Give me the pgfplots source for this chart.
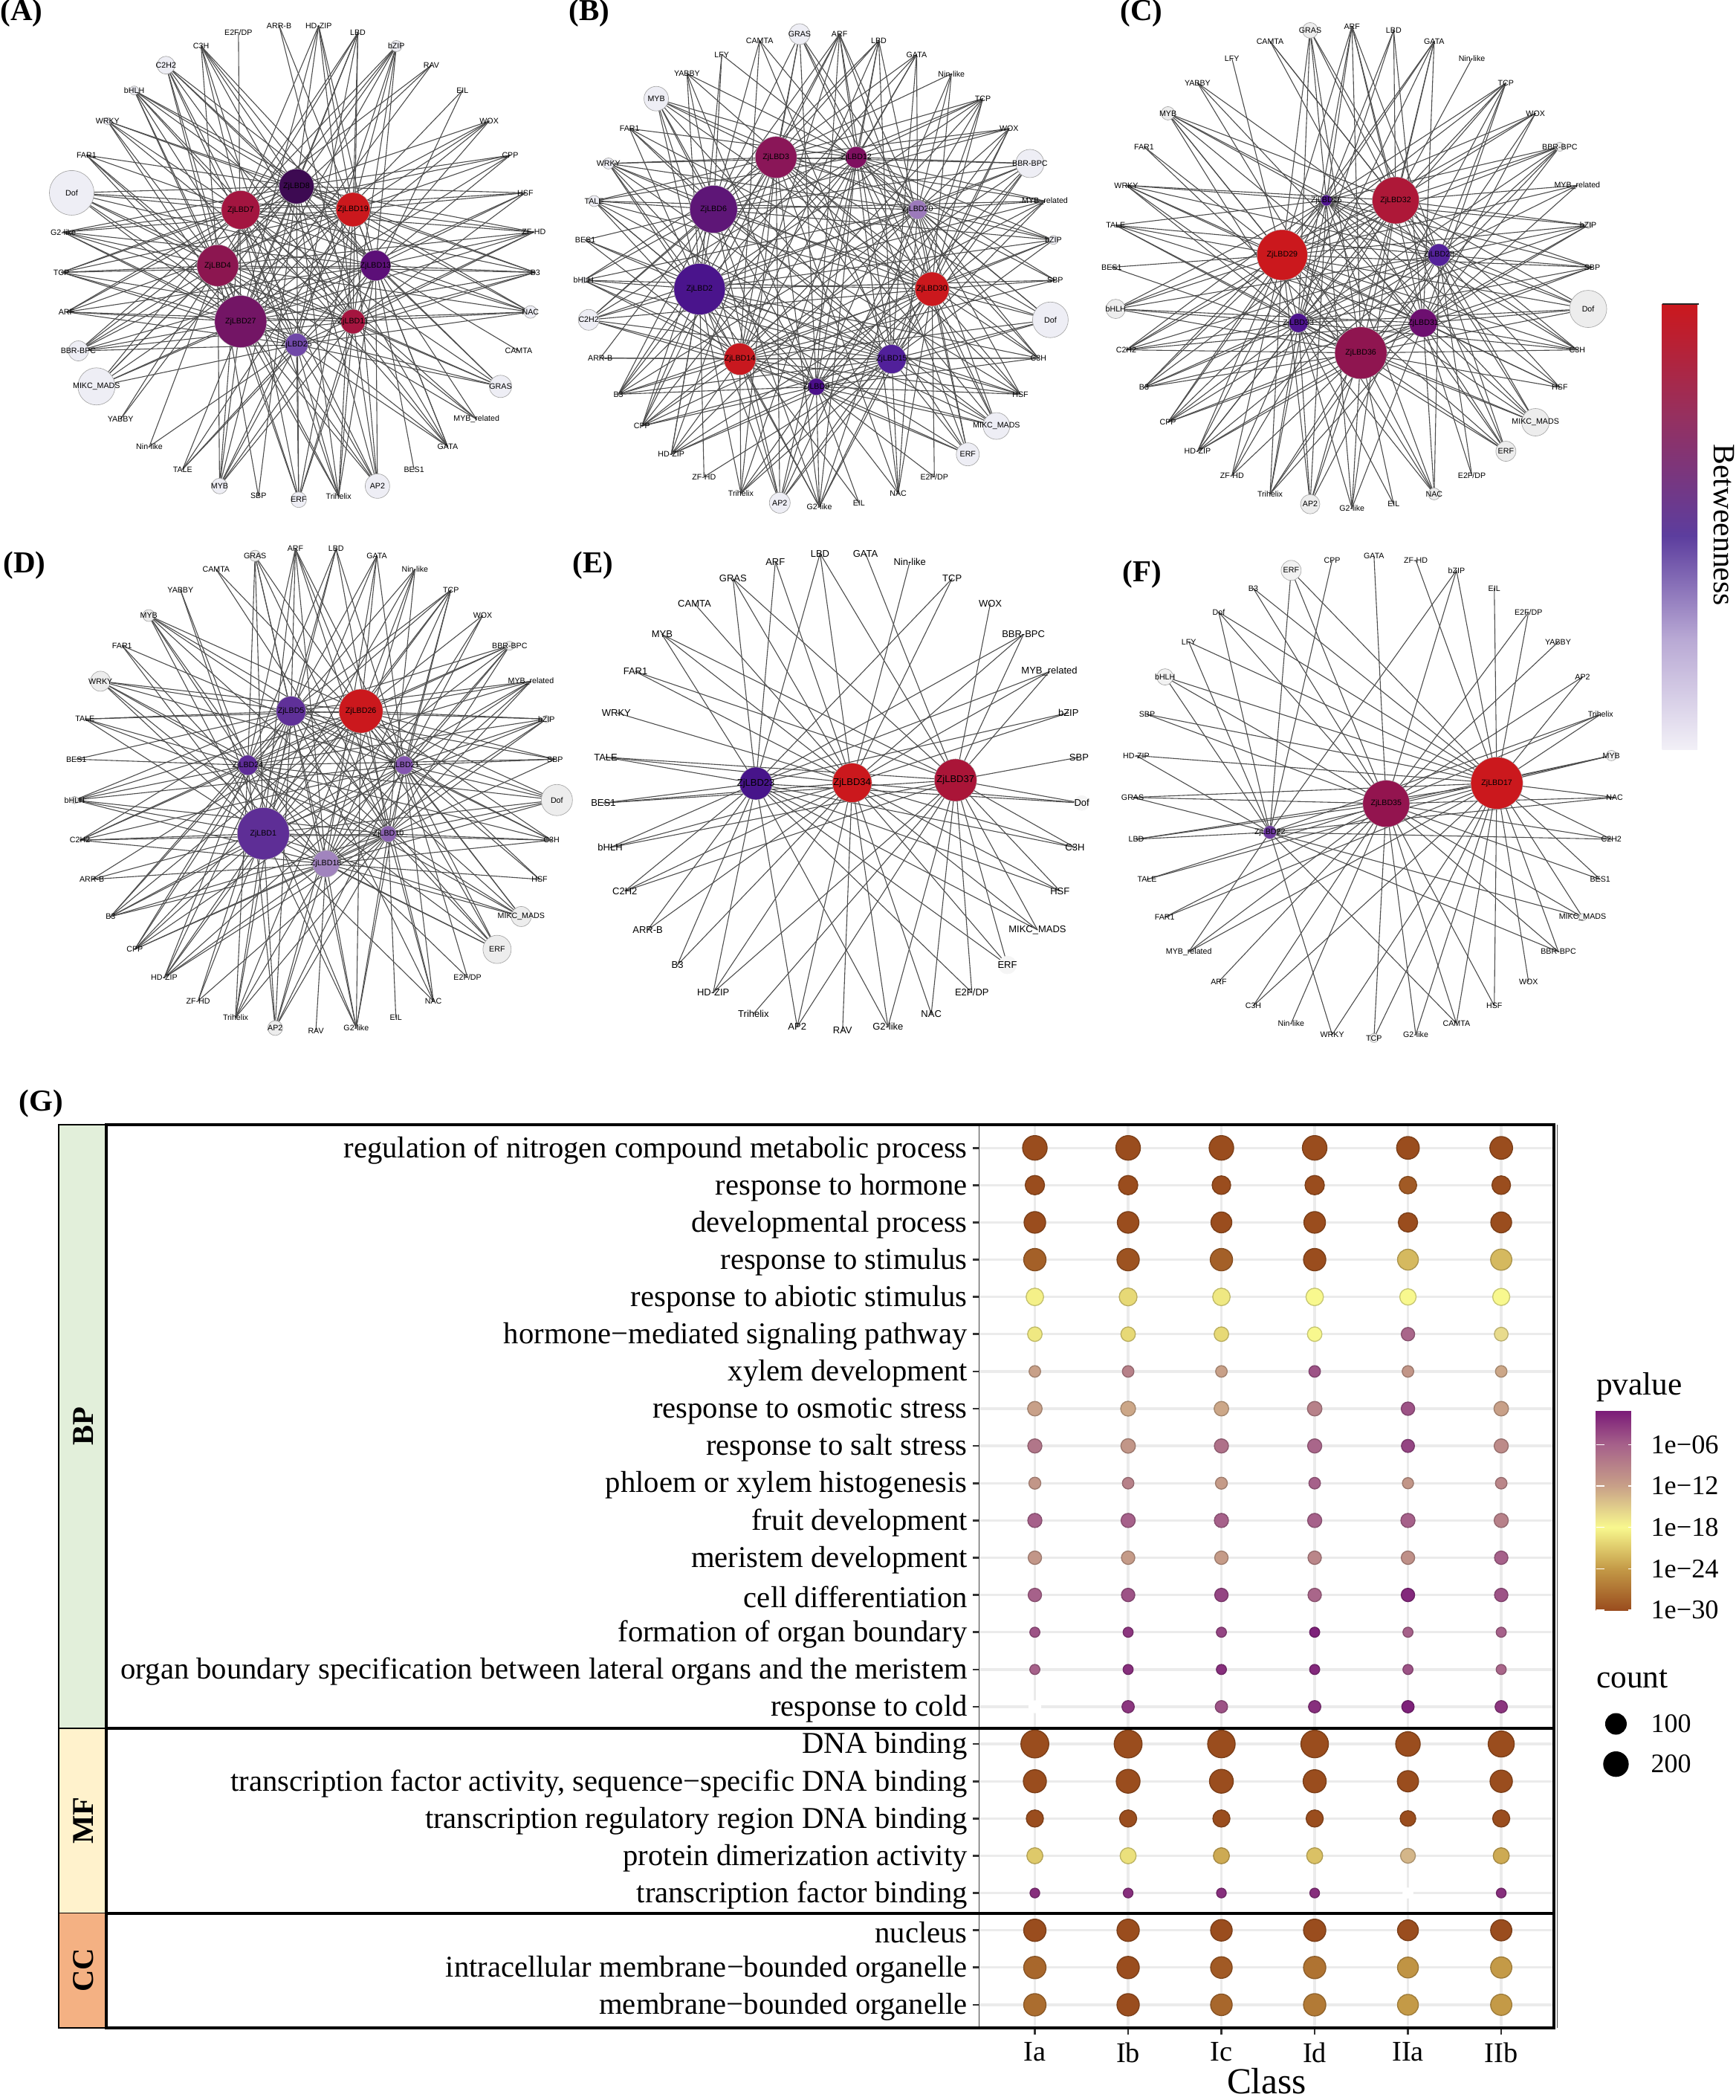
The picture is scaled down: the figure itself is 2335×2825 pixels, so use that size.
\documentclass[border=0pt]{standalone}
\usepackage{pgfplots}
\usepackage{pgfplotstable}
\usepackage{fontspec}
\setmainfont{Liberation Serif}
\newfontfamily\arial{Liberation Sans}
\pgfplotsset{compat=1.18}

% hub colours, named after the gene number
\definecolor{z1}{HTML}{5E2E96}\definecolor{z2}{HTML}{4A148C}\definecolor{z3}{HTML}{8A1658}
\definecolor{z4}{HTML}{8C1650}\definecolor{z5}{HTML}{5F3098}\definecolor{z6}{HTML}{5E1677}
\definecolor{z7}{HTML}{A31540}\definecolor{z8}{HTML}{3D0A52}\definecolor{z9}{HTML}{4B0F8A}
\definecolor{z10}{HTML}{8A62B0}\definecolor{z11}{HTML}{A5153F}\definecolor{z12}{HTML}{7F1060}
\definecolor{z13}{HTML}{5C0F78}\definecolor{z14}{HTML}{C8181F}\definecolor{z15}{HTML}{51209A}
\definecolor{z16}{HTML}{4E148E}\definecolor{z17}{HTML}{CB181D}\definecolor{z18}{HTML}{A184BE}
\definecolor{z19}{HTML}{CB181D}\definecolor{z20}{HTML}{9C7ABB}\definecolor{z21}{HTML}{8456B0}
\definecolor{z22}{HTML}{6E3AA0}\definecolor{z23}{HTML}{47148A}\definecolor{z24}{HTML}{5E2C98}
\definecolor{z25}{HTML}{7048A8}\definecolor{z26}{HTML}{CB181D}\definecolor{z27}{HTML}{731565}
\definecolor{z28}{HTML}{54229A}\definecolor{z29}{HTML}{CB181D}\definecolor{z30}{HTML}{CB181D}
\definecolor{z31}{HTML}{6D0F70}\definecolor{z32}{HTML}{AE1838}\definecolor{z33}{HTML}{4E148E}
\definecolor{z34}{HTML}{CB181D}\definecolor{z35}{HTML}{93144F}\definecolor{z36}{HTML}{8F1550}
\definecolor{z37}{HTML}{AA1538}
\definecolor{edgegray}{HTML}{4D4D4D}

\pgfplotsset{
  net/.style={hide axis,clip=false,scale only axis,anchor=north west,
    xmin=0,xmax=1568,ymin=0,ymax=1568,y dir=reverse},
  edge/.style={draw=edgegray,line width=0.33pt,line join=round,no markers},
  lab/.style={nodes near coords={#1},point meta=x,
    every node near coord/.append style={anchor=center,inner sep=0pt,font=\tf,text=black}},
}

% node list is run twice: once to store positions, once to draw
\newcommand\Store[5]{\expandafter\gdef\csname n@#1\endcsname{#2,#3}}
\newcommand\Draw[5]{%
  \ifnum#4>0
  \addplot[only marks,mark=*,mark size=#4*0.15pt,lab={#5},
    mark options={fill=ofill,draw=odraw,line width=0.2pt}] coordinates {(#2,#3)};
  \else
  \addplot[only marks,mark=none,lab={#5}] coordinates {(#2,#3)};
  \fi}
\newcommand\Edges[3]{%
  \gdef\acc{}%
  \foreach \k in {#3} {\xdef\acc{\acc(#1,#2)(\csname n@\k\endcsname)}}%
  \edef\temp{\noexpand\addplot[edge] coordinates {\acc};}\temp}
\newcommand\Hub[4]{%
  \addplot[only marks,mark=*,mark size=#3*0.15pt,lab={ZjLBD#4},
    mark options={fill=z#4,draw=gray!60,line width=0.15pt}] coordinates {(#1,#2)};}

\def\nodesA{%
\Tf{ARRB}{755}{75}{0}{ARR-B}\Tf{HDZIP}{862}{75}{0}{HD-ZIP}\Tf{LBD}{968}{96}{0}{LBD}\Tf{BZIP}{1072}{135}{15}{bZIP}%
\Tf{RAV}{1167}{191}{0}{RAV}\Tf{EIL}{1251}{265}{0}{EIL}\Tf{WOX}{1323}{355}{0}{WOX}\Tf{CPP}{1380}{455}{0}{CPP}%
\Tf{HSF}{1421}{565}{0}{HSF}\Tf{ZFHD}{1444}{680}{0}{ZF-HD}\Tf{B3}{1448}{798}{0}{B3}\Tf{NAC}{1435}{914}{17}{NAC}%
\Tf{CAMTA}{1403}{1028}{0}{CAMTA}\Tf{GRAS}{1354}{1132}{30}{GRAS}\Tf{MYBR}{1289}{1228}{0}{MYB\_related}%
\Tf{GATA}{1211}{1308}{0}{GATA}\Tf{BES1}{1120}{1375}{0}{BES1}\Tf{AP2}{1021}{1424}{33}{AP2}\Tf{TRI}{916}{1454}{0}{Trihelix}%
\Tf{ERF}{808}{1464}{21}{ERF}\Tf{SBP}{699}{1453}{0}{SBP}\Tf{MYB}{594}{1424}{21}{MYB}\Tf{TALE}{494}{1375}{0}{TALE}%
\Tf{NIN}{404}{1308}{0}{Nin-like}\Tf{YABBY}{326}{1228}{0}{YABBY}\Tf{MIKC}{261}{1132}{50}{MIKC\_MADS}%
\Tf{BBR}{212}{1028}{27}{BBR-BPC}\Tf{ARF}{180}{914}{0}{ARF}\Tf{TCP}{166}{798}{0}{TCP}\Tf{G2}{171}{680}{0}{G2-like}%
\Tf{DOF}{194}{565}{60}{Dof}\Tf{FAR1}{234}{455}{0}{FAR1}\Tf{WRKY}{291}{355}{10}{WRKY}\Tf{BHLH}{363}{265}{12}{bHLH}%
\Tf{C2H2}{449}{191}{24}{C2H2}\Tf{C3H}{544}{135}{0}{C3H}\Tf{E2F}{645}{96}{0}{E2F/DP}}

\def\nodesB{%
\Tf{GRAS}{688}{100}{28}{GRAS}\Tf{ARF}{805}{100}{0}{ARF}\Tf{LBD}{920}{119}{0}{LBD}\Tf{GATA}{1031}{160}{0}{GATA}%
\Tf{NIN}{1133}{216}{0}{Nin-like}\Tf{TCP}{1225}{289}{0}{TCP}\Tf{WOX}{1302}{377}{0}{WOX}\Tf{BBR}{1363}{479}{38}{BBR-BPC}%
\Tf{MYBR}{1407}{589}{0}{MYB\_related}\Tf{BZIP}{1432}{703}{12}{bZIP}\Tf{SBP}{1437}{821}{0}{SBP}\Tf{DOF}{1423}{937}{48}{Dof}%
\Tf{C3H}{1388}{1049}{0}{C3H}\Tf{HSF}{1335}{1155}{0}{HSF}\Tf{MIKC}{1265}{1248}{36}{MIKC\_MADS}\Tf{ERF}{1181}{1331}{31}{ERF}%
\Tf{E2F}{1083}{1397}{0}{E2F/DP}\Tf{NAC}{977}{1445}{0}{NAC}\Tf{EIL}{862}{1473}{0}{EIL}\Tf{G2}{746}{1485}{0}{G2-like}%
\Tf{AP2}{630}{1473}{28}{AP2}\Tf{TRI}{516}{1445}{0}{Trihelix}\Tf{ZFHD}{408}{1397}{0}{ZF-HD}\Tf{HDZIP}{312}{1331}{0}{HD-ZIP}%
\Tf{CPP}{226}{1248}{0}{CPP}\Tf{B3}{157}{1155}{0}{B3}\Tf{ARRB}{104}{1049}{0}{ARR-B}\Tf{C2H2}{70}{937}{28}{C2H2}%
\Tf{BHLH}{55}{821}{8}{bHLH}\Tf{BES1}{60}{703}{0}{BES1}\Tf{TALE}{86}{589}{15}{TALE}\Tf{WRKY}{128}{479}{15}{WRKY}%
\Tf{FAR1}{190}{377}{0}{FAR1}\Tf{MYB}{268}{289}{33}{MYB}\Tf{YABBY}{358}{216}{0}{YABBY}\Tf{LFY}{460}{160}{0}{LFY}%
\Tf{CAMTA}{571}{119}{0}{CAMTA}}

\def\nodesC{%
\Tf{GRAS}{519}{89}{21}{GRAS}\Tf{ARF}{622}{77}{0}{ARF}\Tf{LBD}{725}{89}{0}{LBD}\Tf{GATA}{825}{121}{0}{GATA}%
\Tf{NIN}{918}{172}{0}{Nin-like}\Tf{TCP}{1002}{243}{0}{TCP}\Tf{WOX}{1075}{332}{0}{WOX}\Tf{BBR}{1135}{430}{12}{BBR-BPC}%
\Tf{MYBR}{1178}{543}{0}{MYB\_related}\Tf{BZIP}{1205}{660}{9}{bZIP}\Tf{SBP}{1215}{783}{0}{SBP}\Tf{DOF}{1205}{905}{50}{Dof}%
\Tf{C3H}{1178}{1025}{0}{C3H}\Tf{HSF}{1135}{1135}{0}{HSF}\Tf{MIKC}{1075}{1237}{37}{MIKC\_MADS}\Tf{ERF}{1002}{1322}{27}{ERF}%
\Tf{E2F}{918}{1393}{0}{E2F/DP}\Tf{NAC}{825}{1447}{16}{NAC}\Tf{EIL}{725}{1477}{0}{EIL}\Tf{G2}{622}{1489}{0}{G2-like}%
\Tf{AP2}{519}{1477}{26}{AP2}\Tf{TRI}{420}{1447}{0}{Trihelix}\Tf{ZFHD}{326}{1393}{0}{ZF-HD}\Tf{HDZIP}{241}{1322}{0}{HD-ZIP}%
\Tf{CPP}{168}{1237}{0}{CPP}\Tf{B3}{109}{1135}{0}{B3}\Tf{C2H2}{65}{1025}{0}{C2H2}\Tf{BHLH}{39}{905}{26}{bHLH}%
\Tf{BES1}{29}{783}{0}{BES1}\Tf{TALE}{39}{660}{0}{TALE}\Tf{WRKY}{65}{543}{0}{WRKY}\Tf{FAR1}{109}{430}{0}{FAR1}%
\Tf{MYB}{168}{332}{18}{MYB}\Tf{YABBY}{241}{243}{0}{YABBY}\Tf{LFY}{326}{172}{0}{LFY}\Tf{CAMTA}{420}{121}{0}{CAMTA}}

\def\nodesD{%
\Tf{GRAS}{708}{62}{15}{GRAS}\Tf{ARF}{820}{41}{0}{ARF}\Tf{LBD}{933}{41}{0}{LBD}\Tf{GATA}{1046}{62}{0}{GATA}%
\Tf{NIN}{1152}{103}{0}{Nin-like}\Tf{TCP}{1252}{165}{0}{TCP}\Tf{WOX}{1340}{242}{0}{WOX}\Tf{BBR}{1415}{333}{12}{BBR-BPC}%
\Tf{MYBR}{1474}{440}{0}{MYB\_related}\Tf{BZIP}{1517}{554}{10}{bZIP}\Tf{SBP}{1541}{675}{0}{SBP}\Tf{DOF}{1546}{798}{42}{Dof}%
\Tf{C3H}{1531}{919}{0}{C3H}\Tf{HSF}{1498}{1037}{0}{HSF}\Tf{MIKC}{1447}{1149}{27}{MIKC\_MADS}\Tf{ERF}{1380}{1248}{38}{ERF}%
\Tf{E2F}{1298}{1333}{0}{E2F/DP}\Tf{NAC}{1203}{1403}{0}{NAC}\Tf{EIL}{1099}{1453}{0}{EIL}\Tf{G2}{989}{1485}{0}{G2-like}%
\Tf{RAV}{877}{1493}{0}{RAV}\Tf{AP2}{764}{1485}{20}{AP2}\Tf{TRI}{654}{1453}{0}{Trihelix}\Tf{ZFHD}{550}{1403}{0}{ZF-HD}%
\Tf{HDZIP}{456}{1333}{0}{HD-ZIP}\Tf{CPP}{374}{1248}{0}{CPP}\Tf{B3}{307}{1149}{0}{B3}\Tf{ARRB}{255}{1037}{0}{ARR-B}%
\Tf{C2H2}{222}{919}{0}{C2H2}\Tf{BHLH}{207}{798}{10}{bHLH}\Tf{BES1}{212}{675}{0}{BES1}\Tf{TALE}{236}{554}{0}{TALE}%
\Tf{WRKY}{279}{440}{27}{WRKY}\Tf{FAR1}{339}{333}{0}{FAR1}\Tf{MYB}{413}{242}{16}{MYB}\Tf{YABBY}{501}{165}{0}{YABBY}%
\Tf{CAMTA}{600}{103}{0}{CAMTA}}

\def\nodesE{%
\Tf{LBD}{748}{55}{0}{LBD}\Tf{GATA}{881}{55}{0}{GATA}\Tf{NIN}{1011}{80}{0}{Nin-like}\Tf{TCP}{1135}{131}{0}{TCP}%
\Tf{WOX}{1247}{206}{0}{WOX}\Tf{BBR}{1344}{299}{0}{BBR-BPC}\Tf{MYBR}{1420}{411}{0}{MYB\_related}\Tf{BZIP}{1476}{535}{0}{bZIP}%
\Tf{SBP}{1507}{669}{0}{SBP}\Tf{DOF}{1515}{807}{20}{Dof}\Tf{C3H}{1495}{941}{0}{C3H}\Tf{HSF}{1451}{1072}{0}{HSF}%
\Tf{MIKC}{1385}{1189}{0}{MIKC\_MADS}\Tf{ERF}{1297}{1295}{24}{ERF}\Tf{E2F}{1193}{1378}{0}{E2F/DP}\Tf{NAC}{1074}{1442}{0}{NAC}%
\Tf{G2}{947}{1481}{0}{G2-like}\Tf{RAV}{814}{1493}{0}{RAV}\Tf{AP2}{681}{1481}{0}{AP2}\Tf{TRI}{553}{1442}{0}{Trihelix}%
\Tf{HDZIP}{435}{1378}{0}{HD-ZIP}\Tf{B3}{330}{1295}{0}{B3}\Tf{ARRB}{243}{1189}{0}{ARR-B}\Tf{C2H2}{176}{1072}{0}{C2H2}%
\Tf{BHLH}{133}{941}{0}{bHLH}\Tf{BES1}{113}{807}{0}{BES1}\Tf{TALE}{120}{669}{0}{TALE}\Tf{WRKY}{151}{535}{0}{WRKY}%
\Tf{FAR1}{207}{411}{0}{FAR1}\Tf{MYB}{285}{299}{0}{MYB}\Tf{CAMTA}{380}{206}{0}{CAMTA}\Tf{GRAS}{493}{131}{0}{GRAS}%
\Tf{ARF}{617}{80}{0}{ARF}}

\def\nodesF{%
\Tf{GATA}{761}{63}{0}{GATA}\Tf{ZFHD}{877}{75}{0}{ZF-HD}\Tf{BZIP}{990}{106}{0}{bZIP}\Tf{EIL}{1095}{160}{0}{EIL}%
\Tf{E2F}{1190}{232}{0}{E2F/DP}\Tf{YABBY}{1272}{322}{0}{YABBY}\Tf{AP2}{1340}{427}{0}{AP2}\Tf{TRI}{1390}{540}{0}{Trihelix}%
\Tf{MYB}{1420}{664}{14}{MYB}\Tf{NAC}{1429}{790}{0}{NAC}\Tf{C2H2}{1420}{916}{0}{C2H2}\Tf{BES1}{1389}{1037}{0}{BES1}%
\Tf{MIKC}{1340}{1151}{10}{MIKC\_MADS}\Tf{BBR}{1273}{1255}{0}{BBR-BPC}\Tf{WOX}{1190}{1345}{0}{WOX}\Tf{HSF}{1095}{1418}{0}{HSF}%
\Tf{CAMTA}{990}{1471}{0}{CAMTA}\Tf{G2}{877}{1505}{0}{G2-like}\Tf{TCP}{761}{1515}{12}{TCP}\Tf{WRKY}{645}{1505}{0}{WRKY}%
\Tf{NIN}{531}{1471}{0}{Nin-like}\Tf{C3H}{426}{1418}{0}{C3H}\Tf{ARF}{330}{1345}{0}{ARF}\Tf{MYBR}{247}{1255}{0}{MYB\_related}%
\Tf{FAR1}{180}{1151}{0}{FAR1}\Tf{TALE}{131}{1037}{0}{TALE}\Tf{LBD}{101}{916}{0}{LBD}\Tf{GRAS}{91}{790}{0}{GRAS}%
\Tf{HDZIP}{101}{664}{0}{HD-ZIP}\Tf{SBP}{131}{540}{0}{SBP}\Tf{BHLH}{181}{427}{22}{bHLH}\Tf{LFY}{247}{322}{0}{LFY}%
\Tf{DOF}{330}{232}{0}{Dof}\Tf{B3}{426}{160}{0}{B3}\Tf{ERF}{531}{106}{27}{ERF}\Tf{CPP}{645}{75}{0}{CPP}}

% dot plot: class, row, log10(pvalue), diameter in px
\pgfplotstableread{
c r p d
0 0 -30 33
1 0 -30 33
2 0 -30 33
3 0 -30 33
4 0 -30 30.5
5 0 -30 30.5
0 -1 -30 26
1 -1 -30 26
2 -1 -30 25
3 -1 -30 26
4 -1 -29 23.5
5 -1 -30 25
0 -2 -30 29
1 -2 -30 29
2 -2 -30 28
3 -2 -30 29
4 -2 -30 26
5 -2 -30 28
0 -3 -28.5 30
1 -3 -29.5 30
2 -3 -28.5 30
3 -3 -30 30
4 -3 -22 28
5 -3 -22 28.5
0 -4 -18.5 23.5
1 -4 -20 24
2 -4 -19 23.5
3 -4 -18 23.5
4 -4 -18 22
5 -4 -18 23
0 -5 -19 19.5
1 -5 -20 19.5
2 -5 -20 19.5
3 -5 -18 19.5
4 -5 -6.5 18
5 -5 -16 18.5
0 -6 -12 15.5
1 -6 -9 15.5
2 -6 -12 15.5
3 -6 -5 15.5
4 -6 -11 15.5
5 -6 -12.5 15.5
0 -7 -12 19.5
1 -7 -12.5 20
2 -7 -12.5 19.5
3 -7 -9 19.5
4 -7 -5 18
5 -7 -12 19.5
0 -8 -8 19
1 -8 -11 19.5
2 -8 -7.5 19
3 -8 -6.5 19
4 -8 -4 17.5
5 -8 -10 19
0 -9 -11 16
1 -9 -9 15.5
2 -9 -11.5 16
3 -9 -6 15.5
4 -9 -11 15
5 -9 -9.5 15.5
0 -10 -6 19
1 -10 -6 19
2 -10 -6 19
3 -10 -6 19
4 -10 -6 19
5 -10 -9 19
0 -11 -11 18
1 -11 -11.5 18
2 -11 -11.5 18
3 -11 -9.5 18
4 -11 -10.5 18
5 -11 -6 18
0 -12 -6 18
1 -12 -5 18
2 -12 -4 18
3 -12 -6.5 18
4 -12 -2 18
5 -12 -5 18
0 -13 -5 13.5
1 -13 -3 13.5
2 -13 -4 13.5
3 -13 -1.5 13.5
4 -13 -6 13.5
5 -13 -6 13.5
0 -14 -6 13.5
1 -14 -2.5 13.5
2 -14 -2.5 13.5
3 -14 -2 13.5
4 -14 -5 13.5
5 -14 -6.5 13.5
1 -15 -3 16.5
2 -15 -5 16.5
3 -15 -2.5 16.5
4 -15 -1.5 16.5
5 -15 -3 16.5
0 -16 -30 37.5
1 -16 -30 37.5
2 -16 -30 37
3 -16 -30 37
4 -16 -30 33
5 -16 -30 35
0 -17 -30 31
1 -17 -30 32
2 -17 -30 32
3 -17 -30 31
4 -17 -30 28.5
5 -17 -30 30
0 -18 -30 23
1 -18 -30 23
2 -18 -30 23
3 -18 -30 23
4 -18 -30 21
5 -18 -30 23
0 -19 -21 21.5
1 -19 -19.5 21.5
2 -19 -23 21.5
3 -19 -21.5 21.5
4 -19 -13.5 20
5 -19 -23 21.5
0 -20 -2.5 13
1 -20 -2.5 13
2 -20 -2.5 13
3 -20 -2.5 13
5 -20 -2.5 13
0 -21 -30 30
1 -21 -30 30
2 -21 -30 29
3 -21 -30 30
4 -21 -30 28
5 -21 -30 28.5
0 -22 -28 30
1 -22 -30 30
2 -22 -29 29
3 -22 -27 30
4 -22 -24.5 28
5 -22 -24 28.5
0 -23 -27.5 30
1 -23 -30 30
2 -23 -28 29
3 -23 -26.5 30
4 -23 -24 28
5 -23 -24 28.5
}\dots

\begin{document}
\begin{tikzpicture}[x=0.3pt,y=-0.3pt]
\useasboundingbox (0,0) rectangle (2335,2825);

% ---------- (A)
\def\tf{\arial\fontsize{3.2}{3.8}\selectfont}
\colorlet{ofill}{black!3!blue!3!white!92!gray}
\colorlet{odraw}{gray!70}
\begin{axis}[net,at={(0pt,0pt)},width=234pt,height=216pt]
\let\Tf\Store \nodesA
\Edges{802}{546}{HDZIP,LBD,BZIP,WOX,CPP,HSF,ZFHD,B3,NAC,GRAS,GATA,AP2,TRI,ERF,SBP,MYB,TALE,YABBY,MIKC,BBR,ARF,TCP,G2,DOF,FAR1,WRKY,BHLH,C2H2,C3H}
\Edges{651}{615}{HDZIP,LBD,BZIP,RAV,CPP,HSF,ZFHD,B3,NAC,GRAS,MYBR,GATA,AP2,TRI,ERF,MYB,MIKC,BBR,ARF,TCP,G2,DOF,FAR1,WRKY,BHLH,C2H2,C3H}
\Edges{955}{614}{HDZIP,LBD,BZIP,WOX,CPP,HSF,ZFHD,B3,NAC,GATA,AP2,TRI,ERF,MYB,TALE,MIKC,BBR,ARF,TCP,G2,DOF,BHLH,C2H2,C3H,WRKY}
\Edges{589}{778}{LBD,BZIP,RAV,WOX,ZFHD,B3,NAC,GRAS,MYBR,GATA,AP2,TRI,ERF,SBP,MYB,YABBY,NIN,MIKC,BBR,TCP,G2,DOF,BHLH,C2H2,C3H,WRKY,FAR1}
\Edges{1016}{778}{ARRB,HDZIP,BZIP,CPP,HSF,ZFHD,B3,NAC,CAMTA,GRAS,MYBR,GATA,BES1,AP2,TRI,ERF,MYB,TALE,MIKC,BBR,ARF,TCP,G2,DOF,BHLH,C2H2,C3H}
\Edges{651}{942}{E2F,HDZIP,LBD,BZIP,RAV,EIL,WOX,CPP,HSF,ZFHD,B3,NAC,GRAS,AP2,TRI,ERF,MYB,MIKC,BBR,ARF,TCP,G2,DOF,FAR1,WRKY,BHLH,C2H2}
\Edges{955}{942}{ARRB,HDZIP,LBD,BZIP,EIL,HSF,ZFHD,B3,NAC,GRAS,MYBR,GATA,AP2,TRI,ERF,MYB,BBR,ARF,TCP,G2,DOF,WRKY,BHLH,C2H2,C3H}
\Edges{802}{1010}{LBD,BZIP,WOX,ZFHD,B3,NAC,GRAS,GATA,AP2,TRI,ERF,MYB,TALE,NIN,MIKC,BBR,ARF,TCP,G2,DOF,FAR1,BHLH,C2H2,C3H}
\let\Tf\Draw \nodesA
\Hub{802}{546}{47}{8}\Hub{651}{615}{52}{7}\Hub{955}{614}{46}{19}\Hub{589}{778}{56}{4}
\Hub{1016}{778}{41}{13}\Hub{651}{942}{70}{27}\Hub{955}{942}{33}{11}\Hub{802}{1010}{31}{25}
\end{axis}

% ---------- (B)
\begin{axis}[net,at={(228pt,0pt)},width=216pt,height=216pt]
\let\Tf\Store \nodesB
\Edges{619}{461}{GRAS,ARF,LBD,GATA,NIN,TCP,WOX,BBR,MYBR,BZIP,DOF,C3H,HSF,MIKC,ERF,NAC,G2,AP2,TRI,HDZIP,CPP,B3,C2H2,BHLH,TALE,WRKY,MYB}
\Edges{854}{461}{GRAS,ARF,LBD,GATA,TCP,WOX,BBR,MYBR,BZIP,SBP,DOF,C3H,MIKC,ERF,NAC,G2,AP2,TRI,CPP,B3,C2H2,TALE,WRKY,MYB,FAR1,YABBY,CAMTA}
\Edges{436}{613}{GRAS,ARF,LBD,CAMTA,TCP,WOX,BBR,MYBR,BZIP,DOF,HSF,MIKC,G2,AP2,HDZIP,CPP,B3,ARRB,C2H2,BHLH,BES1,TALE,WRKY,MYB,FAR1,YABBY,LFY}
\Edges{1034}{614}{GRAS,ARF,GATA,NIN,TCP,WOX,BBR,MYBR,BZIP,SBP,DOF,C3H,HSF,MIKC,ERF,NAC,G2,AP2,HDZIP,CPP,B3,C2H2,BHLH,TALE,WRKY,MYB,LFY}
\Edges{395}{847}{ARF,GATA,TCP,BBR,MYBR,BZIP,SBP,C3H,HSF,MIKC,ERF,EIL,G2,AP2,TRI,ZFHD,HDZIP,CPP,B3,C2H2,BHLH,BES1,TALE,WRKY,MYB,FAR1,YABBY,LFY}
\Edges{1076}{847}{GRAS,ARF,LBD,NIN,TCP,WOX,BBR,BZIP,SBP,DOF,C3H,HSF,MIKC,ERF,E2F,NAC,G2,AP2,TRI,HDZIP,CPP,B3,C2H2,BHLH,TALE,WRKY,MYB,FAR1,YABBY}
\Edges{513}{1052}{GRAS,ARF,LBD,GATA,TCP,BBR,MYBR,BZIP,SBP,DOF,C3H,HSF,MIKC,ERF,G2,AP2,TRI,HDZIP,CPP,B3,ARRB,C2H2,BHLH,BES1,TALE,WRKY,MYB,CAMTA}
\Edges{958}{1052}{ARF,LBD,GATA,TCP,WOX,BBR,MYBR,BZIP,DOF,C3H,HSF,MIKC,ERF,NAC,G2,AP2,TRI,ZFHD,HDZIP,CPP,B3,ARRB,C2H2,BHLH,BES1,TALE,WRKY,MYB,FAR1,CAMTA}
\Edges{737}{1133}{GRAS,ARF,LBD,NIN,WOX,BBR,MYBR,DOF,C3H,HSF,MIKC,ERF,E2F,NAC,EIL,G2,AP2,TRI,HDZIP,CPP,B3,C2H2,BHLH,TALE,WRKY,MYB,YABBY}
\let\Tf\Draw \nodesB
\Hub{619}{461}{56}{3}\Hub{854}{461}{29}{12}\Hub{436}{613}{64}{6}\Hub{1034}{614}{26}{20}\Hub{395}{847}{69}{2}
\Hub{1076}{847}{46}{30}\Hub{513}{1052}{43}{14}\Hub{958}{1052}{39}{15}\Hub{737}{1133}{23}{9}
\end{axis}

% ---------- (C)
\colorlet{ofill}{black!7}
\begin{axis}[net,at={(444pt,0pt)},width=256.5pt,height=216pt]
\let\Tf\Store \nodesC
\Edges{559}{587}{GRAS,ARF,LBD,GATA,TCP,WOX,BBR,BZIP,SBP,DOF,C3H,HSF,MIKC,ERF,NAC,G2,AP2,TRI,HDZIP,CPP,B3,C2H2,BHLH,TALE,WRKY,MYB}
\Edges{730}{587}{GRAS,ARF,LBD,GATA,NIN,TCP,WOX,BBR,MYBR,BZIP,SBP,DOF,C3H,MIKC,ERF,G2,AP2,ZFHD,HDZIP,CPP,B3,C2H2,BHLH,WRKY,MYB,CAMTA}
\Edges{450}{747}{GRAS,ARF,GATA,TCP,WOX,BBR,MYBR,BZIP,SBP,DOF,C3H,HSF,MIKC,ERF,NAC,AP2,TRI,ZFHD,HDZIP,CPP,B3,C2H2,BHLH,BES1,TALE,WRKY,MYB,FAR1}
\Edges{837}{747}{GRAS,ARF,TCP,WOX,BBR,BZIP,SBP,DOF,C3H,HSF,MIKC,ERF,E2F,NAC,AP2,TRI,HDZIP,CPP,B3,C2H2,BHLH,TALE,WRKY,MYB,YABBY,CAMTA}
\Edges{490}{946}{GRAS,ARF,LBD,GATA,TCP,BBR,MYBR,BZIP,SBP,DOF,C3H,MIKC,ERF,NAC,EIL,G2,AP2,TRI,ZFHD,HDZIP,CPP,B3,C2H2,BHLH,TALE,WRKY,MYB,LFY}
\Edges{798}{946}{ARF,LBD,GATA,TCP,WOX,BBR,MYBR,BZIP,SBP,DOF,C3H,HSF,MIKC,ERF,E2F,NAC,G2,TRI,HDZIP,CPP,B3,C2H2,BHLH,TALE,WRKY,MYB,YABBY,CAMTA}
\Edges{644}{1034}{GRAS,ARF,GATA,TCP,BBR,BZIP,SBP,DOF,C3H,HSF,MIKC,ERF,NAC,EIL,G2,AP2,TRI,ZFHD,HDZIP,CPP,B3,C2H2,BHLH,BES1,TALE,WRKY,MYB,FAR1,YABBY}
\let\Tf\Draw \nodesC
\Hub{559}{587}{15}{16}\Hub{730}{587}{63}{32}\Hub{450}{747}{68}{29}\Hub{837}{747}{30}{28}
\Hub{490}{946}{26}{33}\Hub{798}{946}{38}{31}\Hub{644}{1034}{70}{36}
\end{axis}

% ---------- (D)
\begin{axis}[net,at={(0pt,-216pt)},width=228pt,height=210pt]
\let\Tf\Store \nodesD
\Edges{808}{530}{GRAS,ARF,LBD,GATA,TCP,BBR,MYBR,BZIP,SBP,DOF,C3H,MIKC,ERF,NAC,G2,AP2,TRI,ZFHD,HDZIP,CPP,B3,C2H2,BHLH,BES1,TALE,WRKY,MYB}
\Edges{1002}{530}{GRAS,ARF,GATA,NIN,TCP,WOX,BBR,MYBR,BZIP,SBP,DOF,C3H,HSF,MIKC,ERF,NAC,G2,AP2,TRI,HDZIP,CPP,B3,ARRB,C2H2,BHLH,WRKY,MYB,TALE}
\Edges{688}{693}{GRAS,ARF,LBD,NIN,TCP,BBR,MYBR,BZIP,SBP,DOF,C3H,MIKC,ERF,E2F,G2,AP2,TRI,HDZIP,CPP,B3,C2H2,BHLH,BES1,TALE,WRKY,MYB,YABBY}
\Edges{1122}{693}{ARF,LBD,GATA,TCP,WOX,BBR,MYBR,BZIP,SBP,DOF,C3H,HSF,MIKC,ERF,E2F,NAC,G2,AP2,HDZIP,CPP,B3,C2H2,BHLH,WRKY,MYB,FAR1,CAMTA}
\Edges{731}{899}{GRAS,ARF,LBD,GATA,NIN,TCP,BBR,MYBR,BZIP,DOF,C3H,MIKC,ERF,NAC,G2,AP2,TRI,ZFHD,HDZIP,CPP,B3,ARRB,C2H2,BHLH,WRKY,MYB,TALE,FAR1,YABBY}
\Edges{1078}{900}{GRAS,ARF,LBD,NIN,TCP,BBR,MYBR,BZIP,DOF,C3H,MIKC,ERF,NAC,EIL,G2,AP2,TRI,ZFHD,HDZIP,CPP,B3,C2H2,BHLH,WRKY,MYB,CAMTA,TALE}
\Edges{905}{990}{GRAS,ARF,GATA,NIN,TCP,WOX,BBR,MYBR,BZIP,SBP,DOF,C3H,HSF,MIKC,ERF,RAV,G2,AP2,TRI,HDZIP,CPP,B3,ARRB,C2H2,BHLH,WRKY,MYB,FAR1}
\let\Tf\Draw \nodesD
\Hub{808}{530}{40}{5}\Hub{1002}{530}{59}{26}\Hub{688}{693}{27}{24}\Hub{1122}{693}{25}{21}
\Hub{731}{899}{70}{1}\Hub{1078}{900}{22}{10}\Hub{905}{990}{36}{18}
\end{axis}

% ---------- (E), larger labels and nearly invisible outer circles
\def\tfE{\arial\fontsize{3.9}{4.6}\selectfont}
\colorlet{ofill}{black!4}
\colorlet{odraw}{black!4}
\begin{axis}[net,at={(228pt,-216pt)},width=216pt,height=210pt]
\def\tf{\tfE}
\let\Tf\Store \nodesE
\Edges{560}{748}{LBD,TCP,BBR,MYBR,BZIP,DOF,C3H,HSF,MIKC,ERF,E2F,G2,AP2,HDZIP,B3,ARRB,C2H2,BHLH,BES1,TALE,MYB,GRAS,ARF}
\Edges{842}{746}{LBD,NIN,TCP,BBR,MYBR,BZIP,DOF,C3H,HSF,MIKC,ERF,NAC,G2,RAV,AP2,HDZIP,B3,ARRB,C2H2,BHLH,BES1,TALE,WRKY,FAR1,MYB,CAMTA,GRAS,ARF}
\Edges{1145}{738}{LBD,GATA,WOX,BBR,MYBR,SBP,DOF,C3H,HSF,MIKC,ERF,E2F,NAC,G2,AP2,TRI,HDZIP,C2H2,BHLH,BES1,TALE,FAR1,MYB,GRAS}
\let\Tf\Draw \nodesE
\Hub{560}{748}{44}{23}\Hub{842}{746}{53}{34}\Hub{1145}{738}{57}{37}
\end{axis}

% ---------- (F)
\colorlet{ofill}{black!5}
\colorlet{odraw}{gray!70}
\begin{axis}[net,at={(444pt,-216pt)},width=228pt,height=210pt]
\let\Tf\Store \nodesF
\Edges{1102}{747}{ZFHD,BZIP,EIL,E2F,AP2,TRI,MYB,NAC,C2H2,BES1,MIKC,BBR,WOX,HSF,CAMTA,G2,TCP,WRKY,C3H,MYBR,FAR1,TALE,LBD,GRAS,HDZIP,SBP,BHLH,LFY,DOF,B3,ERF}
\Edges{795}{809}{GATA,BZIP,E2F,YABBY,AP2,TRI,MYB,NAC,C2H2,BES1,MIKC,BBR,HSF,CAMTA,G2,TCP,NIN,C3H,ARF,MYBR,FAR1,TALE,LBD,GRAS,SBP,BHLH,DOF,B3,ERF}
\Edges{472}{895}{BZIP,TRI,MYB,NAC,C2H2,MIKC,BBR,CAMTA,WRKY,MYBR,LBD,GRAS,HDZIP,BHLH,LFY,DOF,ERF,CPP}
\let\Tf\Draw \nodesF
\Hub{1102}{747}{70}{17}\Hub{795}{809}{63}{35}\Hub{472}{895}{18}{22}
\end{axis}

% ---------- Betweenness colour bar
\begin{axis}[hide axis,scale only axis,at={(670.98pt,-122.58pt)},anchor=north west,width=14.7pt,height=180pt,
  xmin=0,xmax=1,ymin=0,ymax=1,point meta min=0,point meta max=1,
  colormap={betw}{rgb255(0cm)=(242,240,247); rgb255(25cm)=(184,168,212); rgb255(48cm)=(92,61,158); rgb255(75cm)=(150,48,95); rgb255(100cm)=(203,24,29)},
  colorbar,colorbar shift/.style={xshift=0pt},
  colorbar style={at={(parent axis.north west)},anchor=north west,width=14.7pt,height=180pt,ytick=\empty,axis line style={draw=none}}]
\addplot[draw=none] coordinates {(0,0)};
\end{axis}
\draw[black!85,line width=0.6pt] (2236.6,408.6) -- (2285.5,408.6);
\node[rotate=-90,font=\fontsize{12.5}{15}\selectfont] at (2320,706) {Betweenness};

% ---------- (G) strips under the axis
\fill[color={rgb,255:red,226;green,239;blue,218}] (79,1513) rectangle (143.4,2325);
\fill[color={rgb,255:red,255;green,242;blue,204}] (79,2325) rectangle (143.4,2573.5);
\fill[color={rgb,255:red,244;green,177;blue,131}] (79,2573.5) rectangle (143.4,2728);

\begin{axis}[scale only axis,at={(395.4pt,-453.9pt)},anchor=north west,width=231.9pt,height=364.5pt,
  clip=false,
  xmin=-0.594,xmax=5.565,ymin=-23.62,ymax=0.622,
  axis line style={draw=black!75,line width=0.3pt},
  xmajorgrids,ymajorgrids,
  grid style={draw=black!8,line width=1pt},
  xtick={0,1,2,3,4,5},
  xticklabels={Ia,Ib,Ic,Id,IIa,IIb},
  ytick={0,-1,-2,-3,-4,-5,-6,-7,-8,-9,-10,-11,-12,-13,-14,-15,-16,-17,-18,-19,-20,-21,-22,-23},
  yticklabels={regulation of nitrogen compound metabolic process,response to hormone,developmental process,response to stimulus,response to abiotic stimulus,hormone−mediated signaling pathway,xylem development,response to osmotic stress,response to salt stress,phloem or xylem histogenesis,fruit development,meristem development,cell differentiation,formation of organ boundary,organ boundary specification between lateral organs and the meristem,response to cold,DNA binding,{transcription factor activity, sequence−specific DNA binding},transcription regulatory region DNA binding,protein dimerization activity,transcription factor binding,nucleus,intracellular membrane−bounded organelle,membrane−bounded organelle},
  xtick pos=bottom,ytick pos=left,tick align=outside,
  major tick length=2.7pt,
  tick style={draw=black!80,line width=0.8pt},
  yticklabel style={font=\fontsize{12.2}{14}\selectfont,inner sep=0pt,xshift=-2pt,yshift=-0.9pt},
  xticklabel style={font=\fontsize{11.5}{13}\selectfont,inner sep=0pt,yshift=-3pt},
  xlabel={Class},
  xlabel style={font=\fontsize{14.8}{17}\selectfont,inner sep=0pt,yshift=-2.1pt},
  point meta min=-30,point meta max=-1,
  colormap={pv}{rgb255(0cm)=(154,77,30); rgb255(6cm)=(196,154,71); rgb255(12cm)=(248,248,142); rgb255(18cm)=(200,160,136); rgb255(24cm)=(166,97,138); rgb255(29cm)=(122,26,120)},
  colorbar,colorbar shift/.style={xshift=0pt},
  colorbar style={at={(parent axis.north east)},anchor=north west,xshift=16.95pt,yshift=-115.2pt,
    width=16.2pt,height=80.7pt,
    axis line style={draw=none},
    ytick={-30,-24,-18,-12,-6},
    yticklabels={1e−30,1e−24,1e−18,1e−12,1e−06},
    yticklabel pos=right,ytick pos=both,tick align=inside,
    major tick length=3.3pt,
    ytick style={draw=white,line width=0.4pt},
    yticklabel style={font=\fontsize{10.9}{13}\selectfont,inner sep=0pt,xshift=5.8pt}},
]
\addplot[scatter,only marks,mark=*,point meta=explicit,
  visualization depends on={0.15*\thisrow{d} \as \perpointmarksize},
  scatter/@pre marker code/.append style={/tikz/mark size=\perpointmarksize}]
  table[x=c,y=r,meta=p] {\dots};
% the two missing cells are white
\addplot[only marks,mark=*,mark size=2.4pt,white] coordinates {(0,-15)};
\addplot[only marks,mark=*,mark size=2pt,white] coordinates {(4,-20)};
% size legend
\addplot[only marks,mark=*,mark size=4.15pt,black] coordinates {(6.23,-15.46)};
\addplot[only marks,mark=*,mark size=4.95pt,black] coordinates {(6.23,-16.54)};
\end{axis}

% frames of panel (G)
\draw[black,line width=1.2pt] (143.4,1513) rectangle (2091,2728);
\draw[black,line width=1.2pt] (143.4,2325) -- (2091,2325) (143.4,2573.5) -- (2091,2573.5);
\draw[black!70,line width=0.3pt] (2095.5,1513) -- (2095.5,2728);
\draw[black,line width=0.5pt] (79,1513) rectangle (143.4,2728);
\draw[black,line width=0.5pt] (79,2325) -- (143.4,2325) (79,2573.5) -- (143.4,2573.5);

\begin{scope}[font=\bfseries\fontsize{12.2}{14}\selectfont]
\node[rotate=90] at (112,1918.5) {BP};
\node[rotate=90] at (112,2449) {MF};
\node[rotate=90] at (112,2650.4) {CC};
\end{scope}

\begin{scope}[font=\fontsize{13}{15}\selectfont,inner sep=0pt]
\node[anchor=west] at (2147.5,1866) {pvalue};
\node[anchor=west] at (2147.5,2258) {count};
\end{scope}
\begin{scope}[font=\fontsize{10.8}{13}\selectfont,inner sep=0pt]
\node[anchor=west] at (2221,2319) {100};
\node[anchor=west] at (2221,2373) {200};
\end{scope}

% panel letters
\begin{scope}[font=\bfseries\fontsize{12.3}{14}\selectfont,inner sep=0pt]
\node[anchor=west] at (0,18) {(A)};
\node[anchor=west] at (765,18) {(B)};
\node[anchor=west] at (1507,18) {(C)};
\node[anchor=west] at (4,761) {(D)};
\node[anchor=west] at (770,761) {(E)};
\node[anchor=west] at (1510,773) {(F)};
\node[anchor=west] at (25,1484.5) {(G)};
\end{scope}
\end{tikzpicture}
\end{document}
